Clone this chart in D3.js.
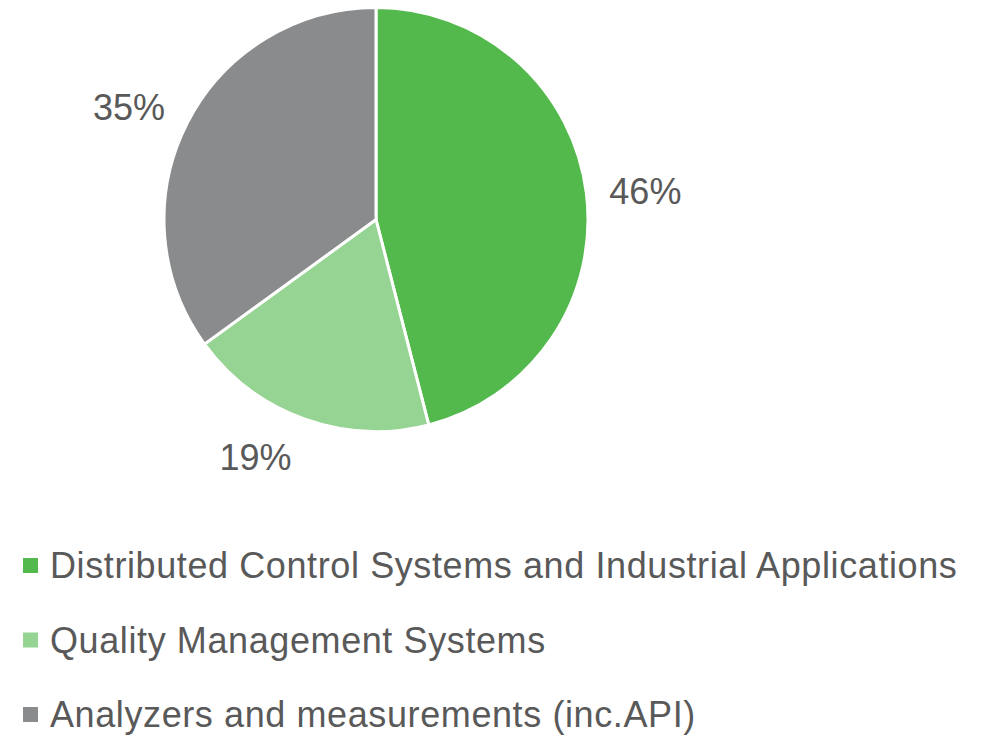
<!DOCTYPE html>
<html>
<head>
<meta charset="utf-8">
<script src="https://cdn.jsdelivr.net/npm/d3@7"></script>
<style>
  body { margin: 0; background: #fff; }
  text { font-family: "Liberation Sans", Arial, sans-serif; fill: #595959; }
</style>
</head>
<body>
<svg id="chart"></svg>
<script>
// === Data ===
const categories = [
  "Distributed Control Systems and Industrial Applications",
  "Quality Management Systems",
  "Analyzers and measurements (inc.API)"
];
const shares = [46, 19, 35];
const colors = ["#53b94c", "#96d493", "#8a8b8d"];

const data = categories.map((c, i) => ({ name: c, value: shares[i], color: colors[i] }));

const svg = d3.select("#chart").attr("width", 989).attr("height", 736);

// === Pie ===
const cx = 376, cy = 219.5, radius = 212;
const g = svg.append("g").attr("transform", `translate(${cx},${cy})`);

const pie = d3.pie().value(d => d.value).sort(null);
const arc = d3.arc().innerRadius(0).outerRadius(radius);
const labelArc = d3.arc().innerRadius(270).outerRadius(270);
// best-fit style nudges for the outside labels
const labelNudge = [[1.5, 6], [-29, -16.5], [-6.5, 10]];

const arcs = pie(data);

g.selectAll("path").data(arcs).enter().append("path")
  .attr("d", arc)
  .attr("fill", d => d.data.color)
  .attr("stroke", "#fff")
  .attr("stroke-width", 3)
  .attr("stroke-linejoin", "round");

g.selectAll(".lbl").data(arcs).enter().append("text")
  .attr("class", "lbl")
  .attr("transform", (d, i) => {
    const [x, y] = labelArc.centroid(d);
    return `translate(${x + labelNudge[i][0]},${y + labelNudge[i][1]})`;
  })
  .attr("text-anchor", "middle")
  .attr("dy", "0.35em")
  .style("font-size", "36px")
  .text(d => d.data.value + "%");

// === Legend ===
const legend = svg.append("g").attr("transform", "translate(23,578)");
const row = legend.selectAll("g").data(data).enter().append("g")
  .attr("transform", (d, i) => `translate(0,${i * 74.5})`);

row.append("rect")
  .attr("x", 0).attr("y", -20)
  .attr("width", 15).attr("height", 15)
  .attr("fill", d => d.color);

row.append("text")
  .attr("x", 27).attr("y", 0)
  .style("font-size", "36px")
  .style("letter-spacing", "0.6px")
  .text(d => d.name);
</script>
</body>
</html>
